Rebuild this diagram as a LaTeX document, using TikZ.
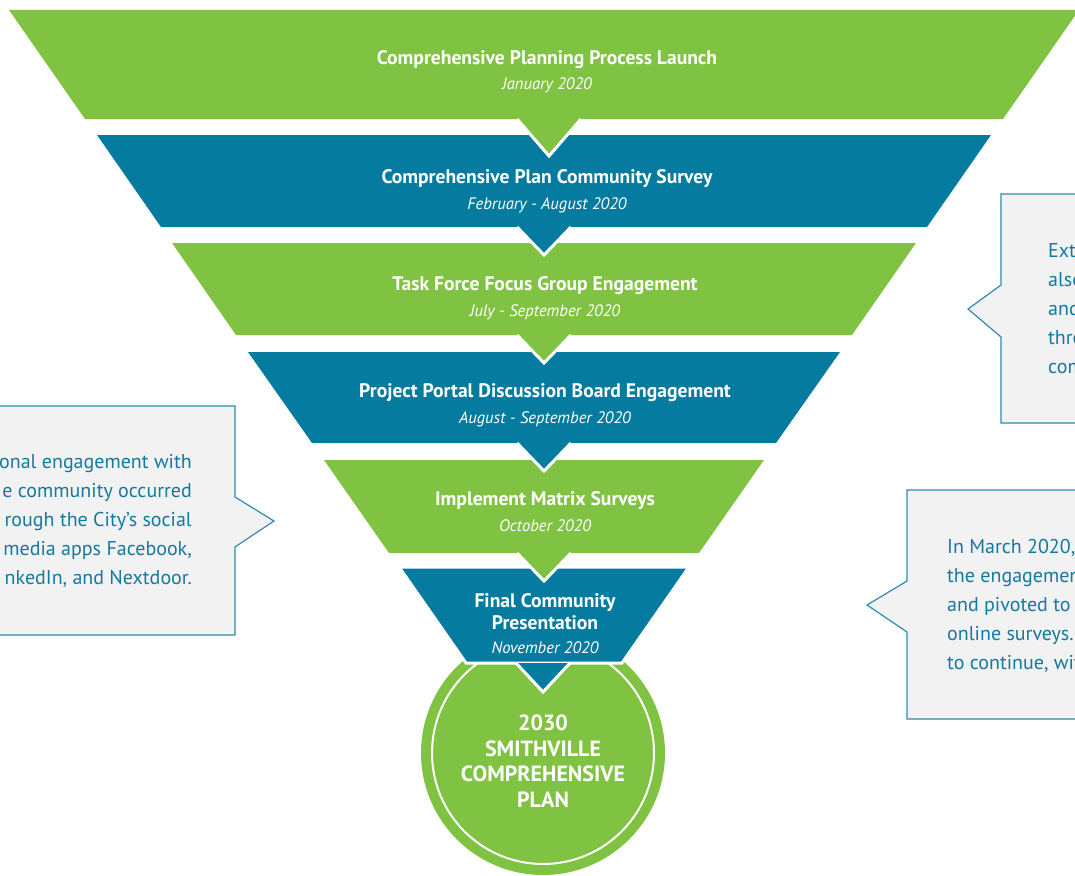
\documentclass[tikz,border=0pt]{standalone}
\usepackage{fontspec}
\setmainfont{PT Sans}

\definecolor{funnelgreen}{HTML}{80C342}
\definecolor{funnelblue}{HTML}{057BA0}
\definecolor{notegray}{HTML}{F2F2F2}
\definecolor{noteline}{HTML}{2C8CB0}
\definecolor{notetext}{HTML}{1479A0}

\begin{document}
\begin{tikzpicture}[x=1pt,y=-1pt,
  stage/.style={font=\bfseries\fontsize{19.6}{22}\selectfont, text=white, anchor=base, inner sep=0pt, align=center},
  when/.style={font=\itshape\fontsize{16.6}{20}\selectfont, text=white, anchor=base, inner sep=0pt},
  chevron/.style={draw=white, line width=3pt},
  callout/.style={fill=notegray, draw=noteline, line width=1.2pt},
  note/.style={font=\fontsize{20}{29}\selectfont, text=notetext, inner sep=0pt}]

\useasboundingbox (0,0) rectangle (1075,875);
\clip (0,0) rectangle (1075,875);

\fill[funnelgreen] (543,753) circle (122pt);
\draw[white, line width=2pt] (543,753) circle (111pt);

\fill[funnelgreen] (9,10) -- (1079,10) -- (1003,119) -- (85,119) -- cycle;
\fill[funnelblue] (97,135) -- (991,135) -- (927,227) -- (161,227) -- cycle;
\fill[funnelgreen] (172,243) -- (916,243) -- (852,335) -- (236,335) -- cycle;
\fill[funnelblue] (248,352) -- (840,352) -- (776,443) -- (312,443) -- cycle;
\fill[funnelgreen] (324,460) -- (764,460) -- (699,553) -- (389,553) -- cycle;
\filldraw[fill=funnelblue, chevron] (399,567) -- (689,567) -- (622,663) -- (466,663) -- cycle;

\filldraw[fill=funnelgreen, chevron] (517,119) -- (549,156) -- (581,119);
\filldraw[fill=funnelblue, chevron] (517,227) -- (544,255) -- (571,227);
\filldraw[fill=funnelgreen, chevron] (517,335) -- (544,363) -- (571,335);
\filldraw[fill=funnelblue, chevron] (517,443) -- (544,471) -- (571,443);
\filldraw[fill=funnelgreen, chevron] (517,553) -- (544,581) -- (571,553);
\filldraw[fill=funnelblue, chevron] (516,663) -- (543,692) -- (570,663);

\node[stage] (launch) at (547,64) {Comprehensive Planning Process Launch};
\node[when] (launchdate) at (547,89) {January 2020};
\node[stage] (survey) at (547,183) {Comprehensive Plan Community Survey};
\node[when] (surveydate) at (547,209) {February - August 2020};
\node[stage] (taskforce) at (545,290) {Task Force Focus Group Engagement};
\node[when] (taskforcedate) at (545,316) {July - September 2020};
\node[stage] (portal) at (545,397) {Project Portal Discussion Board Engagement};
\node[when] (portaldate) at (545,423) {August - September 2020};
\node[stage] (matrix) at (545,505) {Implement Matrix Surveys};
\node[when] (matrixdate) at (545,531) {October 2020};
\node[stage, anchor=center] (final) at (545,612) {Final Community\\Presentation};
\node[when] (finaldate) at (545,653) {November 2020};

\node[stage, anchor=center, font=\bfseries\fontsize{22}{25.5}\selectfont] (plan) at (543,761) {2030\\SMITHVILLE\\COMPREHENSIVE\\PLAN};

\draw[callout] (-10,406) -- (235,406) -- (235,497) -- (274,521) -- (235,547) -- (235,635) -- (-10,635);
\draw[callout] (1090,194) -- (1001,194) -- (1001,285) -- (968,309) -- (1001,337) -- (1001,423) -- (1090,423);
\draw[callout] (1090,490) -- (907,490) -- (907,581) -- (867,605) -- (907,632) -- (907,719) -- (1090,719);

\node[note, align=right, anchor=north east] (social) at (192,454) {onal engagement with\\e community occurred\\rough the City's social\\media apps Facebook,\\nkedIn, and Nextdoor.};
\node[note, align=left, anchor=north west] (extra) at (1048,243) {Ext\\also\\and\\thro\\com};
\node[note, align=left, anchor=north west] (march) at (947,539) {In March 2020,\\the engagement\\and pivoted to\\online surveys.\\to continue, wit};

\end{tikzpicture}
\end{document}
